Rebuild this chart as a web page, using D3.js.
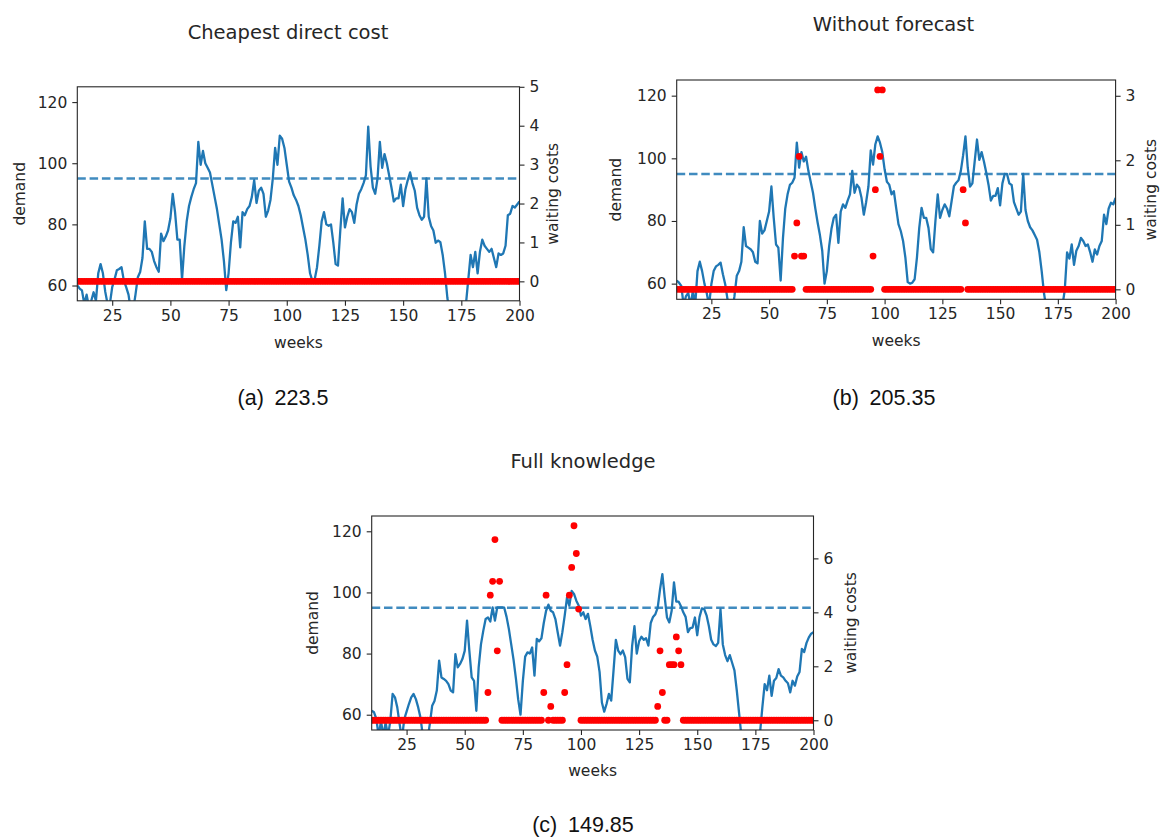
<!DOCTYPE html>
<html>
<head>
<meta charset="utf-8">
<script src="https://cdn.jsdelivr.net/npm/d3@7/dist/d3.min.js"></script>
<style>
  html, body { margin: 0; padding: 0; background: #ffffff; }
  svg { display: block; }
  .tick text { font-family: "DejaVu Sans", sans-serif; fill: #262626; }
</style>
</head>
<body>
<svg id="fig" width="1161" height="839"></svg>
<script>
// ---- data ---------------------------------------------------------------
const weeks = d3.range(10, 201);            // weeks 10 .. 200
const weekTicks = [25, 50, 75, 100, 125, 150, 175, 200];
const demandTicks = [60, 80, 100, 120];
const capacity = 95;                         // dashed reference level

const titles = ["Cheapest direct cost", "Without forecast", "Full knowledge"];
const captionTags = ["(a)", "(b)", "(c)"];
const totals = ["223.5", "205.35", "149.85"];
const costTicksA = [0, 1, 2, 3, 4, 5];
const costTicksB = [0, 1, 2, 3];
const costTicksC = [0, 2, 4, 6];

// demand per week, strategy (a)
const demandA = [
  60, 59, 58.4, 54, 57, 53, 55, 57.8, 55, 64,
  67, 64, 58, 54, 54, 59.5, 62, 65, 65.4, 66,
  61.6, 59.5, 57, 52, 52, 57, 62.7, 64.4, 69, 81,
  72, 72, 71, 68, 66, 64.5, 77, 74.5, 76, 78,
  82, 90, 84, 75, 75, 62, 73, 81, 86, 89,
  91.5, 93.5, 107, 99.5, 104, 100, 98.5, 97, 93, 89,
  85, 80, 75, 68, 58.5, 64, 74, 81, 80.5, 82.5,
  72.5, 84, 83, 85, 86, 89, 94.5, 87, 91, 92,
  90, 82.5, 84.5, 88, 95, 105, 99.5, 109, 108, 105,
  99.5, 94, 92, 89.5, 88, 86, 83, 79, 75, 70,
  64, 61.5, 62, 66, 73, 81, 84, 80, 79.5, 80,
  74, 67, 66.5, 78, 88.5, 79, 82.5, 85, 84, 80.5,
  86.5, 90, 91.5, 93.5, 96, 112, 99, 92, 90, 95,
  107, 98.5, 103, 100, 96, 92, 87.5, 88.5, 88.5, 93,
  86, 91.5, 94.5, 97, 93.5, 91, 85.5, 83, 81.5, 82.5,
  95, 82.5, 79.5, 78, 74, 74.7, 74.2, 70, 64, 56,
  51, 48, 46, 45, 45, 46, 49, 54, 62, 70,
  66, 71, 64, 71, 75, 73, 72, 71, 72, 69,
  66, 70.5, 70, 70.5, 73, 83, 83.5, 86, 85.5, 86.5,
  87.5
];

// demand per week, strategy (b)
const demandB = [
  61, 60.3, 59.3, 53, 56, 57, 53, 57.7, 53, 64,
  67, 64, 60, 57, 53, 59.8, 64, 65.5, 66, 66.7,
  63, 59.8, 55, 51, 51, 56, 62.5, 64, 67, 78,
  72, 71.5, 71, 70, 67, 66.5, 80, 76, 77, 80,
  83, 91, 81, 72.5, 71.5, 61, 74.5, 84, 88.5, 91.5,
  92.2, 93.8, 105, 97, 102, 99, 100.5, 96, 92.5, 89,
  84, 79.5, 75.5, 70.5, 60, 64, 72, 77.5, 81, 82,
  73, 83, 85.3, 84.2, 86.5, 88.5, 96, 89, 91.6, 90.6,
  87.4, 82, 86, 91, 102.5, 98, 104.5, 107, 105, 102,
  96.5, 92.5, 91.6, 88.5, 89.5, 84.2, 79, 76.8, 73.6, 68.3,
  60.5, 60, 60.3, 61.4, 68.3, 77.8, 84.2, 81, 81, 77.8,
  71, 70, 80, 88.5, 81, 83.5, 85.3, 84, 81.5, 86.3,
  91.1, 92.2, 93, 96, 101, 107, 97, 91, 92, 99,
  106, 99.5, 102, 99, 95.5, 91.5, 86.5, 88, 88, 90.5,
  85, 92, 95, 95, 92, 91.5, 86, 84, 82, 83,
  95, 83.5, 80, 78, 77, 75.5, 74, 70, 64, 57,
  52, 49, 47, 46, 46, 47, 50, 53, 58, 70,
  68, 72.5, 66, 70.5, 72, 74.6, 73.6, 72, 72.5, 70,
  67, 70.9, 69.3, 72, 73.6, 82, 79, 84, 85.8, 85.3,
  87.4
];

// demand per week, strategy (c)
const demandC = [
  61.3, 60.8, 58.6, 53, 58, 53, 57.5, 53, 58, 66.8,
  65.7, 62.4, 57, 52, 58.6, 61, 63.5, 65.7, 66.8, 65.1,
  62.4, 59, 53, 50, 52, 57, 62.9, 64.5, 67.9, 77.7,
  72.2, 71.7, 71.1, 70, 67.9, 67.3, 79.8, 75.5, 76.6, 78.2,
  80.9, 90.8, 80.9, 72.2, 71.1, 61.3, 75.5, 83.1, 87.5, 91.3,
  91.8, 90.5, 95.1, 90.8, 95.1, 95.1, 95.1, 95, 92, 88,
  83, 78, 72, 65, 60, 71, 79, 80.4, 80, 82,
  72.8, 84.8, 84, 85, 90, 94, 96, 94, 93.5, 91.3,
  86.9, 82.6, 87, 92.4, 98.4, 95.7, 100.5, 99.5, 97.3, 95.7,
  92.4, 93.5, 91.3, 93, 89, 84.5, 81, 79, 74, 64,
  61, 63.5, 66.8, 64.6, 74.4, 84.5, 81, 79.8, 81, 78.8,
  71.7, 70.6, 82.5, 89, 80, 84, 85.5, 84.5, 85, 82.6,
  90, 92, 92.9, 95, 101, 106, 98.5, 91.8, 90.2, 94,
  103.3, 97, 97, 95.5, 93.5, 92, 87, 88.3, 88.5, 91.8,
  86, 92, 94.8, 94.5, 92.5, 89, 84.5, 83, 82.5, 83.5,
  94.5, 83, 79.5, 77.5, 79.5, 77, 74.5, 68, 60.5, 53,
  49, 46, 45, 44, 44, 45, 48, 54, 62.4, 70,
  68, 72.8, 66.2, 71.1, 72, 74.9, 72.8, 72.2, 71.1, 70.3,
  67.3, 71.1, 69.5, 72.5, 74, 81.5, 80.5, 83.5, 85.3, 86.5,
  87
];

// waiting costs per week
const costA = [
  0, 0, 0, 0, 0, 0, 0, 0, 0, 0,
  0, 0, 0, 0, 0, 0, 0, 0, 0, 0,
  0, 0, 0, 0, 0, 0, 0, 0, 0, 0,
  0, 0, 0, 0, 0, 0, 0, 0, 0, 0,
  0, 0, 0, 0, 0, 0, 0, 0, 0, 0,
  0, 0, 0, 0, 0, 0, 0, 0, 0, 0,
  0, 0, 0, 0, 0, 0, 0, 0, 0, 0,
  0, 0, 0, 0, 0, 0, 0, 0, 0, 0,
  0, 0, 0, 0, 0, 0, 0, 0, 0, 0,
  0, 0, 0, 0, 0, 0, 0, 0, 0, 0,
  0, 0, 0, 0, 0, 0, 0, 0, 0, 0,
  0, 0, 0, 0, 0, 0, 0, 0, 0, 0,
  0, 0, 0, 0, 0, 0, 0, 0, 0, 0,
  0, 0, 0, 0, 0, 0, 0, 0, 0, 0,
  0, 0, 0, 0, 0, 0, 0, 0, 0, 0,
  0, 0, 0, 0, 0, 0, 0, 0, 0, 0,
  0, 0, 0, 0, 0, 0, 0, 0, 0, 0,
  0, 0, 0, 0, 0, 0, 0, 0, 0, 0,
  0, 0, 0, 0, 0, 0, 0, 0, 0, 0,
  0
];

const costB = [
  0, 0, 0, 0, 0, 0, 0, 0, 0, 0,
  0, 0, 0, 0, 0, 0, 0, 0, 0, 0,
  0, 0, 0, 0, 0, 0, 0, 0, 0, 0,
  0, 0, 0, 0, 0, 0, 0, 0, 0, 0,
  0, 0, 0, 0, 0, 0, 0, 0, 0, 0,
  0, 0.515, 1.03, 2.06, 0.515, 0.515, 0, 0, 0, 0,
  0, 0, 0, 0, 0, 0, 0, 0, 0, 0,
  0, 0, 0, 0, 0, 0, 0, 0, 0, 0,
  0, 0, 0, 0, 0, 0.515, 1.545, 3.09, 2.06, 3.09,
  0, 0, 0, 0, 0, 0, 0, 0, 0, 0,
  0, 0, 0, 0, 0, 0, 0, 0, 0, 0,
  0, 0, 0, 0, 0, 0, 0, 0, 0, 0,
  0, 0, 0, 0, 1.545, 1.03, 0, 0, 0, 0,
  0, 0, 0, 0, 0, 0, 0, 0, 0, 0,
  0, 0, 0, 0, 0, 0, 0, 0, 0, 0,
  0, 0, 0, 0, 0, 0, 0, 0, 0, 0,
  0, 0, 0, 0, 0, 0, 0, 0, 0, 0,
  0, 0, 0, 0, 0, 0, 0, 0, 0, 0,
  0, 0, 0, 0, 0, 0, 0, 0, 0, 0,
  0
];

const costC = [
  0, 0, 0, 0, 0, 0, 0, 0, 0, 0,
  0, 0, 0, 0, 0, 0, 0, 0, 0, 0,
  0, 0, 0, 0, 0, 0, 0, 0, 0, 0,
  0, 0, 0, 0, 0, 0, 0, 0, 0, 0,
  0, 0, 0, 0, 0, 0, 0, 0, 0, 0,
  1.03, 4.635, 5.15, 6.695, 2.575, 5.15, 0, 0, 0, 0,
  0, 0, 0, 0, 0, 0, 0, 0, 0, 0,
  0, 0, 0, 0, 1.03, 4.635, 0, 0.515, 0, 0,
  0, 0, 0, 1.03, 2.06, 4.635, 5.665, 7.21, 6.18, 4.12,
  0, 0, 0, 0, 0, 0, 0, 0, 0, 0,
  0, 0, 0, 0, 0, 0, 0, 0, 0, 0,
  0, 0, 0, 0, 0, 0, 0, 0, 0, 0,
  0, 0, 0, 0.515, 2.575, 1.03, 0, 0, 2.06, 2.06,
  2.06, 3.09, 2.575, 2.06, 0, 0, 0, 0, 0, 0,
  0, 0, 0, 0, 0, 0, 0, 0, 0, 0,
  0, 0, 0, 0, 0, 0, 0, 0, 0, 0,
  0, 0, 0, 0, 0, 0, 0, 0, 0, 0,
  0, 0, 0, 0, 0, 0, 0, 0, 0, 0,
  0, 0, 0, 0, 0, 0, 0, 0, 0, 0,
  0
];

// ---- layout -------------------------------------------------------------
const panels = [
  { id: "a", demand: demandA, cost: costA, costTicks: costTicksA, costDomain: [-0.5, 5],
    left: 77.3, right: 519.5, top: 86.8, bottom: 300.8,
    titleX: 288, titleY: 32, ylabX: 19.5, y2labX: 553, xlabY: 343, capX: 283, capY: 398 },
  { id: "b", demand: demandB, cost: costB, costTicks: costTicksB, costDomain: [-0.1545, 3.2445],
    left: 676.7, right: 1115.6, top: 80, bottom: 299.3,
    titleX: 893.5, titleY: 24, ylabX: 616, y2labX: 1151, xlabY: 341, capX: 884, capY: 398 },
  { id: "c", demand: demandC, cost: costC, costTicks: costTicksC, costDomain: [-0.3605, 7.5705],
    left: 371.7, right: 813.5, top: 516, bottom: 730,
    titleX: 583, titleY: 461, ylabX: 313, y2labX: 850.5, xlabY: 771, capX: 583, capY: 825 }
];

const blue = "#1f77b4";
const ink = "#262626";
const svg = d3.select("#fig");

panels.forEach((p, i) => {
  const x = d3.scaleLinear().domain([10, 200]).range([p.left, p.right]);
  const y = d3.scaleLinear().domain([55, 125]).range([p.bottom, p.top]);
  const y2 = d3.scaleLinear().domain(p.costDomain).range([p.bottom, p.top]);
  const g = svg.append("g").attr("class", "panel-" + p.id);

  const clipId = "clip-" + p.id;
  svg.append("clipPath").attr("id", clipId)
    .append("rect")
    .attr("x", p.left).attr("y", p.top)
    .attr("width", p.right - p.left).attr("height", p.bottom - p.top);

  const plot = g.append("g").attr("clip-path", `url(#${clipId})`);

  // demand line
  const line = d3.line().x((d, k) => x(weeks[k])).y(d => y(d));
  plot.append("path")
    .datum(p.demand)
    .attr("d", line)
    .attr("fill", "none")
    .attr("stroke", blue)
    .attr("stroke-width", 2.3)
    .attr("stroke-linejoin", "round");

  // capacity level
  plot.append("line")
    .attr("x1", x(10)).attr("x2", x(200))
    .attr("y1", y(capacity)).attr("y2", y(capacity))
    .attr("stroke", blue).attr("stroke-opacity", 0.85)
    .attr("stroke-width", 2.4)
    .attr("stroke-dasharray", "8.5 3.8");

  // waiting costs (secondary axis)
  plot.selectAll("circle.cost")
    .data(p.cost)
    .join("circle")
    .attr("class", "cost")
    .attr("cx", (d, k) => x(weeks[k]))
    .attr("cy", d => y2(d))
    .attr("r", 3.4)
    .attr("fill", "#ff0000");

  // axes
  const fontTick = 15.5;
  const xAxis = g.append("g")
    .attr("transform", `translate(0,${p.bottom})`)
    .call(d3.axisBottom(x).tickValues(weekTicks).tickSize(5).tickPadding(4));
  const yAxis = g.append("g")
    .attr("transform", `translate(${p.left},0)`)
    .call(d3.axisLeft(y).tickValues(demandTicks).tickSize(5).tickPadding(5));
  const y2Axis = g.append("g")
    .attr("transform", `translate(${p.right},0)`)
    .call(d3.axisRight(y2).tickValues(p.costTicks).tickFormat(d3.format("d")).tickSize(5).tickPadding(5));
  [xAxis, yAxis, y2Axis].forEach(a => {
    a.select(".domain").remove();
    a.selectAll(".tick line").attr("stroke", ink).attr("stroke-width", 1.1);
    a.selectAll(".tick text").attr("font-size", fontTick).attr("fill", ink);
  });

  // frame
  g.append("rect")
    .attr("x", p.left).attr("y", p.top)
    .attr("width", p.right - p.left).attr("height", p.bottom - p.top)
    .attr("fill", "none").attr("stroke", ink).attr("stroke-width", 1.1);

  // labels
  const lab = { "font-family": "DejaVu Sans, sans-serif", "font-size": 15.5, "fill": ink };
  const t1 = g.append("text").text("weeks")
    .attr("x", (p.left + p.right) / 2).attr("y", p.xlabY)
    .attr("text-anchor", "middle").attr("dominant-baseline", "central");
  const t2 = g.append("text").text("demand")
    .attr("transform", `translate(${p.ylabX},${(p.top + p.bottom) / 2}) rotate(-90)`)
    .attr("text-anchor", "middle").attr("dominant-baseline", "central");
  const t3 = g.append("text").text("waiting costs")
    .attr("transform", `translate(${p.y2labX},${(p.top + p.bottom) / 2}) rotate(-90)`)
    .attr("text-anchor", "middle").attr("dominant-baseline", "central");
  [t1, t2, t3].forEach(t => Object.entries(lab).forEach(([k, v]) => t.attr(k, v)));

  g.append("text").text(titles[i])
    .attr("x", p.titleX).attr("y", p.titleY)
    .attr("text-anchor", "middle").attr("dominant-baseline", "central")
    .attr("font-family", "DejaVu Sans, sans-serif").attr("font-size", 19.5).attr("fill", ink);

  g.append("text")
    .attr("x", p.capX).attr("y", p.capY)
    .attr("text-anchor", "middle").attr("dominant-baseline", "central")
    .attr("font-family", "Liberation Sans, Arial, sans-serif").attr("font-size", 21.5).attr("fill", "#111")
    .text(captionTags[i] + "\u2002" + totals[i]);
});
</script>
</body>
</html>
